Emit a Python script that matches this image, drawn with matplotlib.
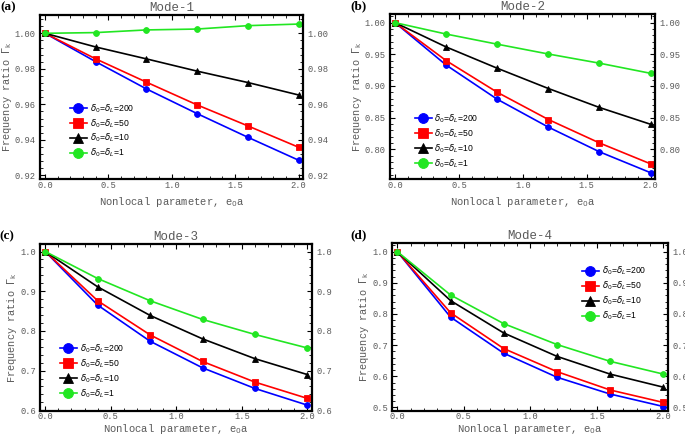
import matplotlib
matplotlib.use("Agg")
import matplotlib.pyplot as plt
from matplotlib.ticker import MultipleLocator, FormatStrFormatter

x = [0.0, 0.4, 0.8, 1.2, 1.6, 2.0]
labels = [r'$\delta_0$=$\delta_L$=200', r'$\delta_0$=$\delta_L$=50',
          r'$\delta_0$=$\delta_L$=10', r'$\delta_0$=$\delta_L$=1']

mode1_d200 = [1.0, 0.984, 0.9687, 0.9548, 0.9415, 0.9286]
mode1_d50 = [1.0, 0.9856, 0.9725, 0.9597, 0.9479, 0.9359]
mode1_d10 = [1.0, 0.9923, 0.9856, 0.9787, 0.9723, 0.9653]
mode1_d1 = [1.0, 1.0004, 1.0019, 1.0024, 1.0043, 1.0052]

mode2_d200 = [1.0, 0.933, 0.879, 0.835, 0.796, 0.763]
mode2_d50 = [1.0, 0.940, 0.890, 0.847, 0.810, 0.777]
mode2_d10 = [1.0, 0.9616, 0.928, 0.896, 0.866, 0.8395]
mode2_d1 = [1.0, 0.982, 0.966, 0.9505, 0.936, 0.920]

mode3_d200 = [1.0, 0.865, 0.774, 0.707, 0.655, 0.613]
mode3_d50 = [1.0, 0.876, 0.790, 0.723, 0.671, 0.630]
mode3_d10 = [1.0, 0.911, 0.839, 0.780, 0.730, 0.690]
mode3_d1 = [1.0, 0.932, 0.876, 0.829, 0.791, 0.757]

mode4_d200 = [1.0, 0.790, 0.674, 0.597, 0.543, 0.503]
mode4_d50 = [1.0, 0.804, 0.689, 0.615, 0.556, 0.516]
mode4_d10 = [1.0, 0.843, 0.739, 0.664, 0.607, 0.565]
mode4_d1 = [1.0, 0.861, 0.769, 0.702, 0.648, 0.607]

colors = ['#0000ff', '#ff0000', '#000000', '#22e622']
markers = ['o', 's', '^', 'o']

mono = 'Liberation Mono'
gray = '#5a5a5a'

fig = plt.figure(figsize=(6.85, 4.36), dpi=100)

panels = [
    dict(pos=[0.0584, 0.5894, 0.3839, 0.3762], data=[mode1_d200, mode1_d50, mode1_d10, mode1_d1],
         ylim=(0.918, 1.0103), major=0.02, minor=0.004, fmt='%.2f', title='Mode-1', tag='(a)',
         leg=(0.10, 0.49), xpad=4.0),
    dict(pos=[0.5693, 0.5894, 0.3869, 0.3785], data=[mode2_d200, mode2_d50, mode2_d10, mode2_d1],
         ylim=(0.753, 1.0137), major=0.05, minor=0.01, fmt='%.2f', title='Mode-2', tag='(b)',
         leg=(0.08, 0.425), xpad=4.0),
    dict(pos=[0.0584, 0.058, 0.3971, 0.3824], data=[mode3_d200, mode3_d50, mode3_d10, mode3_d1],
         ylim=(0.599, 1.019), major=0.1, minor=0.02, fmt='%.1f', title='Mode-3', tag='(c)',
         leg=(0.06, 0.43), xpad=0.8),
    dict(pos=[0.5723, 0.058, 0.4029, 0.3847], data=[mode4_d200, mode4_d50, mode4_d10, mode4_d1],
         ylim=(0.4895, 1.028), major=0.1, minor=0.02, fmt='%.1f', title='Mode-4', tag='(d)',
         leg=(0.675, 0.89), xpad=0.8),
]

for p in panels:
    ax = fig.add_axes(p['pos'])
    for vals, c, m, lab in zip(p['data'], colors, markers, labels):
        ax.plot(x, vals, color=c, marker=m, markersize=4.2, linewidth=1.2, label=lab,
                markeredgewidth=0.6, markeredgecolor=c)
    ax.set_xlim(-0.04, 2.035)
    ax.set_ylim(*p['ylim'])
    ax.xaxis.set_major_locator(MultipleLocator(0.5))
    ax.xaxis.set_minor_locator(MultipleLocator(0.1))
    ax.yaxis.set_major_locator(MultipleLocator(p['major']))
    ax.yaxis.set_minor_locator(MultipleLocator(p['minor']))
    ax.xaxis.set_major_formatter(FormatStrFormatter('%.1f'))
    ax.yaxis.set_major_formatter(FormatStrFormatter(p['fmt']))
    ax.tick_params(which='both', direction='in', top=True, right=True, labelright=True,
                   labelsize=6.3, labelcolor=gray, color='black')
    ax.tick_params(axis='x', which='both', pad=1.2)
    ax.tick_params(axis='y', which='both', pad=3.0)
    ax.tick_params(which='major', length=3.5, width=0.8)
    ax.tick_params(which='minor', length=2, width=0.6)
    for s in ax.spines.values():
        s.set_linewidth(1.6)
    ax.set_title(p['title'], fontfamily=mono, fontsize=9, color=gray, pad=3)
    ax.set_xlabel('Nonlocal parameter, e$_0$a', fontfamily=mono, fontsize=7.6, color=gray,
                  labelpad=p['xpad'])
    ax.set_ylabel(r'Frequency ratio $\Gamma_\mathrm{k}$', fontfamily=mono, fontsize=7.4,
                  color=gray, labelpad=0.8)
    ax.legend(loc='upper left', bbox_to_anchor=p['leg'], frameon=False,
              prop={'family': 'Liberation Sans', 'size': 6.2}, handlelength=2.0,
              markerscale=1.7, labelspacing=0.28, handletextpad=0.3, borderaxespad=0)
    ax.text(-0.15, 1.01, p['tag'], transform=ax.transAxes, fontfamily='Liberation Serif',
            fontweight='bold', fontsize=9.5, va='bottom', ha='left')

fig.canvas.draw()
for ax in fig.axes:
    for t in ax.xaxis.majorTicks:
        t.label1.set_fontfamily(mono)
    for t in ax.yaxis.majorTicks:
        t.label1.set_fontfamily(mono)
        t.label2.set_fontfamily(mono)
        t.label2.set_color(gray)

fig.savefig('out.png', dpi=100)
